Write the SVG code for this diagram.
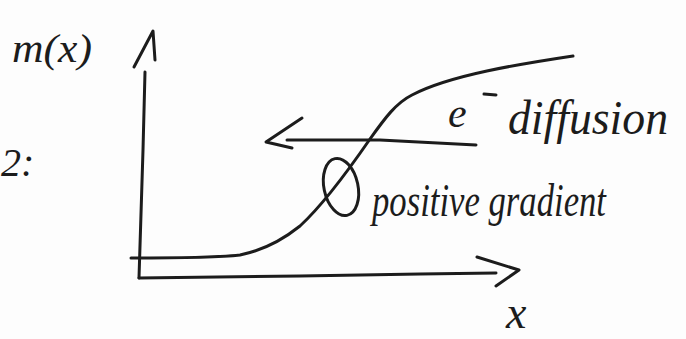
<svg xmlns="http://www.w3.org/2000/svg" width="686" height="339" viewBox="0 0 686 339">
<style>
.s{fill:none;stroke:#1c1c1c;stroke-width:3;stroke-linecap:round;stroke-linejoin:round}
.t{font-family:"Liberation Serif","DejaVu Serif",serif;font-style:italic;fill:#1c1c1c}
</style>
<rect width="686" height="339" fill="#fdfdfd"/>
<g id="labels">
<text class="t" x="1" y="176" font-size="40">2:</text>
<text class="t" x="12" y="62" font-size="40" textLength="80" lengthAdjust="spacingAndGlyphs">m(x)</text>
<text class="t" x="506" y="328" font-size="46">x</text>
</g>
<g id="axes">
<path class="s" d="M145,72 L143,150 L139,278"/>
<path class="s" d="M134,67 L153,31 L155,60"/>
<path class="s" d="M139,278 L300,276 L420,274 L496,273"/>
<path class="s" d="M477,257 L519,270 L496,286"/>
</g>
<g id="curve">
<path class="s" d="M131,258 C170,258 215,258 240,255 C265,250 285,238 300,226 C325,203 350,168 370,139 C385,118 396,103 412,95 C450,75 520,64 573,56"/>
</g>
<g id="diffusion">
<path class="s" d="M476,145 L380,140 L287,140"/>
<path class="s" d="M302,118 L266,142 L292,148"/>
<text class="t" x="448" y="127" font-size="42">e</text>
<path class="s" d="M484,94 L496,95"/>
<text class="t" x="508" y="134" font-size="48" textLength="160" lengthAdjust="spacingAndGlyphs">diffusion</text>
</g>
<g id="gradient">
<ellipse class="s" cx="341" cy="187" rx="17" ry="29" transform="rotate(-12 341 187)"/>
<text class="t" x="372" y="216" font-size="46" textLength="234" lengthAdjust="spacingAndGlyphs">positive gradient</text>
</g>
</svg>
